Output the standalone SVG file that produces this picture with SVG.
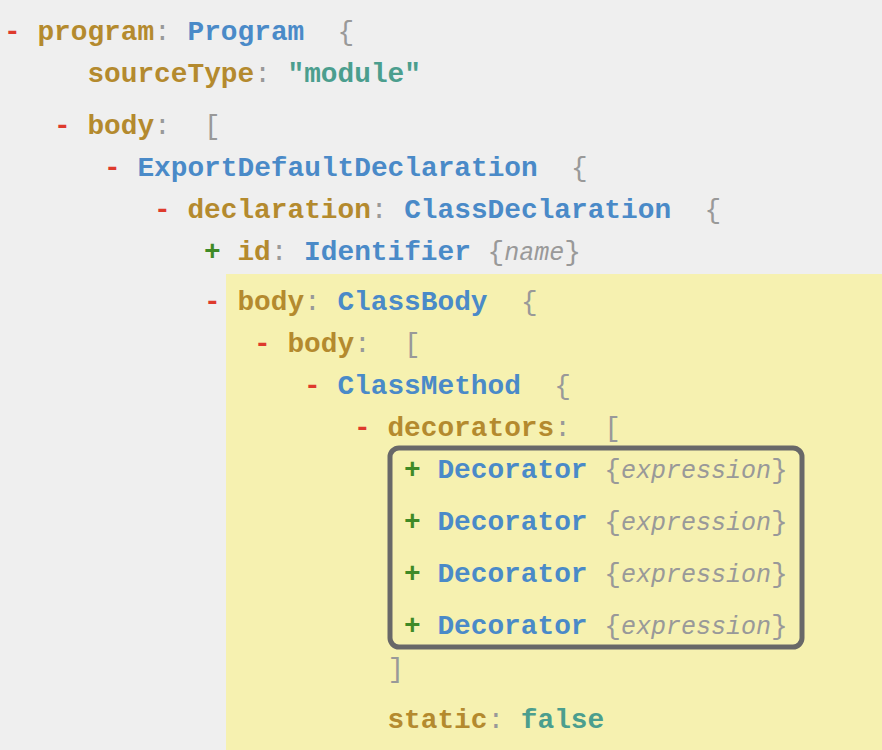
<svg xmlns="http://www.w3.org/2000/svg" width="882" height="750" viewBox="0 0 882 750">
<style>
text{font-family:"Liberation Mono","Courier New",monospace;font-size:27.8px;font-weight:bold}
.m{fill:#de3a2c}
.p{fill:#3f8a26}
.k{fill:#b48a2e}
.t{fill:#4a8ac8}
.s{fill:#4b9e8e}
.g{fill:#999999;font-weight:normal}
.i{fill:#999999;font-weight:normal;font-style:italic;font-size:25px}
</style>
<rect x="0" y="0" width="882" height="750" fill="#efefef"/>
<rect id="highlight" x="226" y="274" width="656" height="476" fill="#f6f1b0"/>
<g id="connectors"/>
<g id="program"><text y="40"><tspan class="m" x="4">-</tspan><tspan class="k" x="37.4">program</tspan><tspan class="g" x="154.1">:</tspan><tspan class="t" x="187.5">Program</tspan><tspan class="g" x="337.6">{</tspan></text></g>
<g id="sourceType"><text y="82"><tspan class="k" x="87.4">sourceType</tspan><tspan class="g" x="254.2">:</tspan><tspan class="s" x="287.5">"module"</tspan></text></g>
<g id="programBody"><text y="134"><tspan class="m" x="54">-</tspan><tspan class="k" x="87.4">body</tspan><tspan class="g" x="154.1">:</tspan><tspan class="g" x="204.1">[</tspan></text></g>
<g id="exportDefault"><text y="176"><tspan class="m" x="104">-</tspan><tspan class="t" x="137.4">ExportDefaultDeclaration</tspan><tspan class="g" x="571">{</tspan></text></g>
<g id="declaration"><text y="218"><tspan class="m" x="154">-</tspan><tspan class="k" x="187.4">declaration</tspan><tspan class="g" x="370.8">:</tspan><tspan class="t" x="404.2">ClassDeclaration</tspan><tspan class="g" x="704.4">{</tspan></text></g>
<g id="id"><text y="260"><tspan class="p" x="204">+</tspan><tspan class="k" x="237.4">id</tspan><tspan class="g" x="270.7">:</tspan><tspan class="t" x="304.1">Identifier</tspan><tspan class="g" x="487.6">{</tspan><tspan class="i" x="504.3">name</tspan><tspan class="g" x="564.3">}</tspan></text></g>
<g id="classBody"><text y="310"><tspan class="m" x="204">-</tspan><tspan class="k" x="237.4">body</tspan><tspan class="g" x="304.1">:</tspan><tspan class="t" x="337.4">ClassBody</tspan><tspan class="g" x="520.9">{</tspan></text></g>
<g id="classBodyBody"><text y="352"><tspan class="m" x="254">-</tspan><tspan class="k" x="287.4">body</tspan><tspan class="g" x="354.1">:</tspan><tspan class="g" x="404.1">[</tspan></text></g>
<g id="classMethod"><text y="394"><tspan class="m" x="304">-</tspan><tspan class="t" x="337.4">ClassMethod</tspan><tspan class="g" x="554.2">{</tspan></text></g>
<g id="decorators"><text y="436"><tspan class="m" x="354">-</tspan><tspan class="k" x="387.4">decorators</tspan><tspan class="g" x="554.2">:</tspan><tspan class="g" x="604.2">[</tspan></text></g>
<g id="decoratorBox"><rect x="390" y="448" width="412" height="199" rx="9" fill="none" stroke="#686868" stroke-width="5"/></g>
<g id="decorator1"><text y="478"><tspan class="p" x="404">+</tspan><tspan class="t" x="437.4">Decorator</tspan><tspan class="g" x="604.2">{</tspan><tspan class="i" x="620.9">expression</tspan><tspan class="g" x="770.9">}</tspan></text></g>
<g id="decorator2"><text y="530"><tspan class="p" x="404">+</tspan><tspan class="t" x="437.4">Decorator</tspan><tspan class="g" x="604.2">{</tspan><tspan class="i" x="620.9">expression</tspan><tspan class="g" x="770.9">}</tspan></text></g>
<g id="decorator3"><text y="582"><tspan class="p" x="404">+</tspan><tspan class="t" x="437.4">Decorator</tspan><tspan class="g" x="604.2">{</tspan><tspan class="i" x="620.9">expression</tspan><tspan class="g" x="770.9">}</tspan></text></g>
<g id="decorator4"><text y="634"><tspan class="p" x="404">+</tspan><tspan class="t" x="437.4">Decorator</tspan><tspan class="g" x="604.2">{</tspan><tspan class="i" x="620.9">expression</tspan><tspan class="g" x="770.9">}</tspan></text></g>
<g id="decoratorsClose"><text y="677"><tspan class="g" x="387.4">]</tspan></text></g>
<g id="static"><text y="728"><tspan class="k" x="387.4">static</tspan><tspan class="g" x="487.5">:</tspan><tspan class="s" x="520.8">false</tspan></text></g>
</svg>
